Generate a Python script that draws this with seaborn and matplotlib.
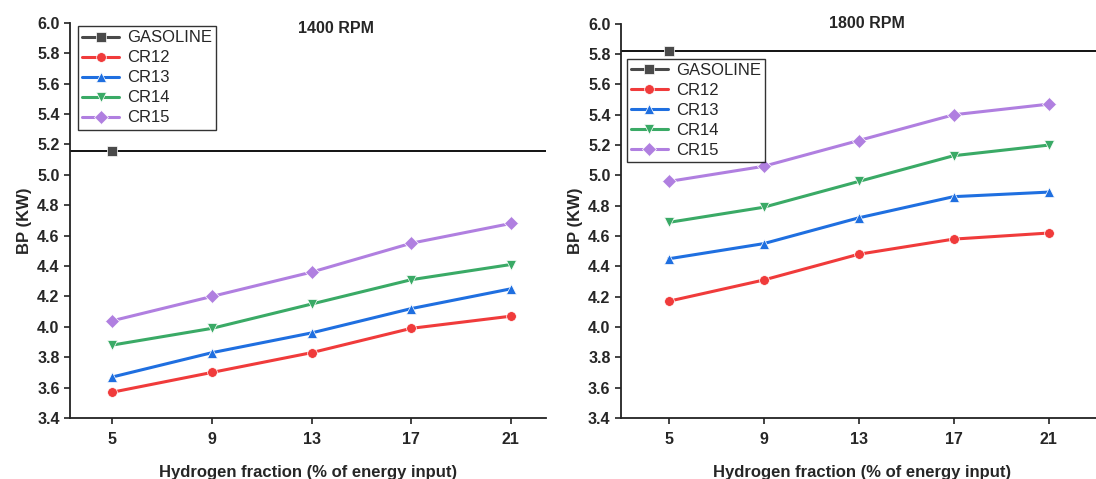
import pandas as pd
import seaborn as sns
import matplotlib.pyplot as plt

# данные: мощность BP (кВт) при разных долях водорода
h2_fraction = [5, 9, 13, 17, 21]

cr12_1400 = [3.57, 3.70, 3.83, 3.99, 4.07]
cr13_1400 = [3.67, 3.83, 3.96, 4.12, 4.25]
cr14_1400 = [3.88, 3.99, 4.15, 4.31, 4.41]
cr15_1400 = [4.04, 4.20, 4.36, 4.55, 4.68]
gasoline_1400 = 5.16

cr12_1800 = [4.17, 4.31, 4.48, 4.58, 4.62]
cr13_1800 = [4.45, 4.55, 4.72, 4.86, 4.89]
cr14_1800 = [4.69, 4.79, 4.96, 5.13, 5.20]
cr15_1800 = [4.96, 5.06, 5.23, 5.40, 5.47]
gasoline_1800 = 5.82

series_names = ['GASOLINE', 'CR12', 'CR13', 'CR14', 'CR15']
palette = {'GASOLINE': '#4a4a4a', 'CR12': '#f03b3b', 'CR13': '#1f6fe0',
           'CR14': '#3aaa66', 'CR15': '#b07fe0'}
markers = {'GASOLINE': 's', 'CR12': 'o', 'CR13': '^', 'CR14': 'v', 'CR15': 'D'}


def make_df(gas, cr12, cr13, cr14, cr15):
    rows = [{'x': h2_fraction[0], 'BP': gas, 'fuel': 'GASOLINE'}]
    for name, vals in zip(series_names[1:], [cr12, cr13, cr14, cr15]):
        for x, v in zip(h2_fraction, vals):
            rows.append({'x': x, 'BP': v, 'fuel': name})
    return pd.DataFrame(rows)


df_1400 = make_df(gasoline_1400, cr12_1400, cr13_1400, cr14_1400, cr15_1400)
df_1800 = make_df(gasoline_1800, cr12_1800, cr13_1800, cr14_1800, cr15_1800)

sns.set_style('ticks')
plt.rcParams['font.family'] = ['Liberation Sans', 'DejaVu Sans']

fig = plt.figure(figsize=(10.96, 4.79), dpi=100)
ax1 = fig.add_axes([0.0639, 0.1273, 0.434, 0.825])
ax2 = fig.add_axes([0.5666, 0.1273, 0.44, 0.823])

panels = [(ax1, df_1400, gasoline_1400, '1400 RPM', (3.3, 22.4), (0.56, 1.005), (0.01, 1.0)),
          (ax2, df_1800, gasoline_1800, '1800 RPM', (3.0, 23.3), (0.51, 1.02), (0.005, 0.92))]

for ax, df, gas, title, xlim, tpos, anchor in panels:
    ax.axhline(gas, color='black', linewidth=1.3, zorder=1)
    sns.lineplot(ax=ax, data=df, x='x', y='BP', hue='fuel', style='fuel',
                 hue_order=series_names, style_order=series_names,
                 palette=palette, markers=markers, dashes=False,
                 linewidth=2.2, markersize=7, markeredgewidth=0.5)
    ax.set_xlim(*xlim)
    ax.set_ylim(3.4, 6.0)
    ax.set_xticks(h2_fraction)
    ax.set_yticks([3.4 + 0.2 * i for i in range(14)])
    ax.set_yticklabels(['{:.1f}'.format(3.4 + 0.2 * i) for i in range(14)])
    for lab in ax.get_xticklabels() + ax.get_yticklabels():
        lab.set_fontweight('bold')
        lab.set_fontsize(11.5)
    ax.tick_params(direction='out', length=4, width=1.2, color='#222222')
    ax.tick_params(axis='x', pad=6)
    sns.despine(ax=ax)
    for s in ['left', 'bottom']:
        ax.spines[s].set_linewidth(1.3)
        ax.spines[s].set_color('#222222')
    ax.set_xlabel('Hydrogen fraction (% of energy input)', fontsize=12,
                  fontweight='bold', labelpad=13)
    ax.set_ylabel('BP (KW)', fontsize=12, fontweight='bold', labelpad=4)
    ax.text(tpos[0], tpos[1], title, transform=ax.transAxes, ha='center', va='top',
            fontsize=11.5, fontweight='bold')
    leg = ax.legend(title=None, loc='upper left', bbox_to_anchor=anchor, fontsize=12,
                    frameon=True, fancybox=False, borderaxespad=0.2,
                    handlelength=2.2, handletextpad=0.5, labelspacing=0.3,
                    borderpad=0.25)
    leg.get_frame().set_edgecolor('black')
    leg.get_frame().set_linewidth(1.0)

fig.savefig('out.png', dpi=100)
plt.close()
